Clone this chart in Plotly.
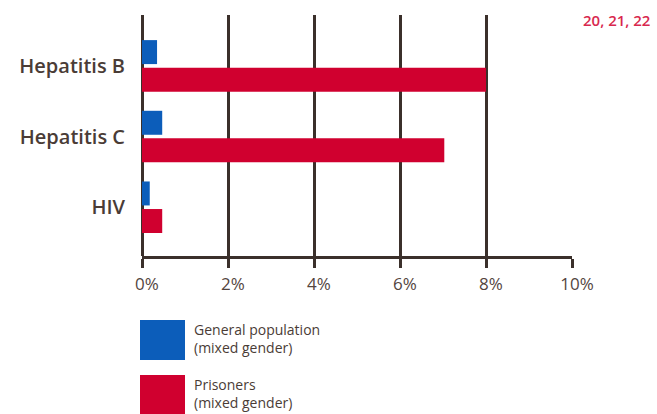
import plotly.graph_objects as go

categories = ["Hepatitis B", "Hepatitis C", "HIV"]
series_names = ["General population<br>(mixed gender)", "Prisoners<br>(mixed gender)"]
general_population = [0.35, 0.47, 0.18]
prisoners = [8.0, 7.03, 0.47]
tick_values = [0, 2, 4, 6, 8, 10]
tick_labels = ["0%", "2%", "4%", "6%", "8%", "10%"]
source_note = "20, 21, 22"

BLUE = "#0C5DBA"
RED = "#D0002F"
GRID = "#3b302b"
TEXT = "#4a3c36"
FONT = "Open Sans"

fig = go.Figure()
fig.add_trace(go.Bar(y=categories, x=general_population, orientation="h",
                     name=series_names[0],
                     marker=dict(color=BLUE, line=dict(width=0))))
fig.add_trace(go.Bar(y=categories, x=prisoners, orientation="h",
                     name=series_names[1],
                     marker=dict(color=RED, line=dict(width=0))))

fig.update_layout(
    width=657, height=414,
    margin=dict(l=142, r=85, t=15, b=158, autoexpand=False),
    paper_bgcolor="white", plot_bgcolor="white",
    barmode="group", bargap=0.22, bargroupgap=0.13,
    showlegend=False,
    font=dict(family=FONT, color=TEXT),
)
fig.update_xaxes(
    range=[0, 10], tickvals=tick_values, ticktext=tick_labels,
    showgrid=True, gridcolor=GRID, gridwidth=3,
    zeroline=True, zerolinecolor=GRID, zerolinewidth=3,
    showline=True, linecolor=GRID, linewidth=3,
    ticks="outside", ticklen=9, tickwidth=3, tickcolor=GRID,
    ticklabelshift=5, ticklabelstandoff=2,
    tickfont=dict(size=17, color="#54453e", family=FONT),
    fixedrange=True, automargin=False,
)
fig.update_yaxes(
    autorange=False, range=[2.69, -0.72],
    showgrid=False, zeroline=False, showline=False,
    ticks="", ticklabelstandoff=16,
    tickfont=dict(size=20, color=TEXT, family=FONT, weight=600),
    fixedrange=True, automargin=False,
)

# Source note
fig.add_annotation(text=source_note, xref="paper", yref="paper",
                   x=1.02, y=0.98, xanchor="left", yanchor="middle",
                   showarrow=False,
                   font=dict(size=15, color="#D8284E", family=FONT, weight=600))

def py(y):
    return (256 - y) / 241.0
def px(x):
    return (x - 142) / 430.0

# Custom legend (large swatches)
legend_rows = [(BLUE, 0, 320, 360), (RED, 1, 375, 415)]
for color, i, y0, y1 in legend_rows:
    fig.add_shape(type="rect", xref="paper", yref="paper",
                  x0=px(140), x1=px(185), y0=py(y1), y1=py(y0),
                  fillcolor=color, line=dict(width=0))
    fig.add_annotation(text=series_names[i], xref="paper", yref="paper",
                       x=px(192), y=py(y0 - 2), xanchor="left", yanchor="top",
                       align="left", showarrow=False,
                       font=dict(size=14, color=TEXT, family=FONT))

fig.write_html("out.html", config={"displayModeBar": False},
               post_script="document.body.style.margin='0';")
